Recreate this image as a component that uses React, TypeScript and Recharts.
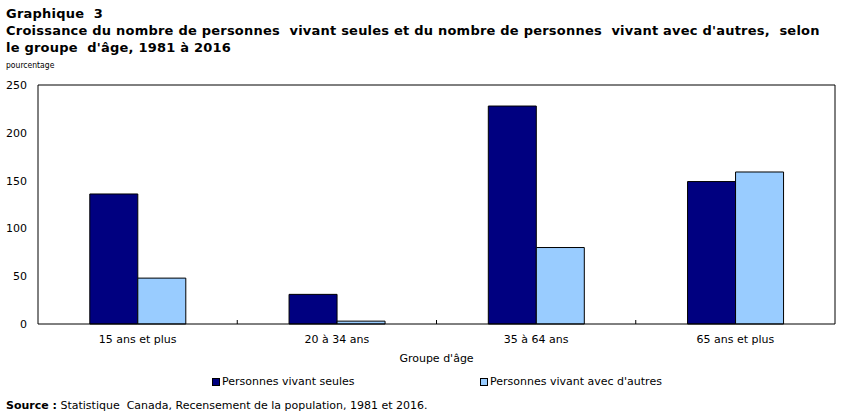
import { BarChart, Bar, XAxis, YAxis, CartesianGrid } from 'recharts';

const ageGroups = ['15 ans et plus', '20 à 34 ans', '35 à 64 ans', '65 ans et plus'];
const vivantSeules = [136, 31, 228, 149];
const vivantAvecAutres = [48, 3, 80, 159];
const yTicks = [0, 50, 100, 150, 200, 250];

const data = ageGroups.map((group, i) => ({
  group,
  seules: vivantSeules[i],
  autres: vivantAvecAutres[i],
}));

const DARK = '#000080';
const LIGHT = '#99ccff';
const FONT = '"DejaVu Sans", Verdana, sans-serif';
const SMALL_FONT = '"DejaVu Sans Condensed", "DejaVu Sans", sans-serif';

function CategoryTick(props: any) {
  const { x, y, payload, index } = props;
  const half = payload?.offset ?? 0;
  return (
    <g>
      {index > 0 && (
        <line x1={x - half} x2={x - half} y1={y - 4} y2={y} stroke="#000" />
      )}
      <text x={x} y={y + 19} textAnchor="middle" fontSize={11} fontFamily={FONT} fill="#000">
        {payload.value}
      </text>
    </g>
  );
}

function LegendItem({ color, label, left }: { color: string; label: string; left: number }) {
  return (
    <div style={{ position: 'absolute', left, top: 375, display: 'flex', alignItems: 'center' }}>
      <span
        style={{
          display: 'inline-block',
          width: 6,
          height: 6,
          background: color,
          border: '1px solid #000',
          marginRight: 2,
        }}
      />
      <span style={{ fontSize: 11, fontFamily: FONT }}>{label}</span>
    </div>
  );
}

export default function App() {
  return (
    <div style={{ position: 'absolute', left: 0, top: 0, width: 850, height: 416, background: '#fff' }}>
      <div
        style={{
          position: 'absolute',
          left: 6,
          top: 5,
          fontFamily: FONT,
          fontWeight: 'bold',
          fontSize: 13,
          lineHeight: '17px',
          letterSpacing: 0.22,
          whiteSpace: 'nowrap',
        }}
      >
        Graphique&nbsp; 3
        <br />
        Croissance du nombre de personnes&nbsp; vivant seules et du nombre de personnes&nbsp; vivant avec d'autres,&nbsp; selon
        <br />
        le groupe&nbsp; d'âge, 1981 à 2016
      </div>
      <div style={{ position: 'absolute', left: 6, top: 60, fontFamily: SMALL_FONT, fontSize: 8.5 }}>
        pourcentage
      </div>

      <BarChart
        width={850}
        height={416}
        data={data}
        margin={{ top: 85, right: 15, left: 0, bottom: 62 }}
        barCategoryGap="26%"
        barGap={0}
        style={{ position: 'absolute', left: 0, top: 0 }}
      >
        <CartesianGrid
          stroke="#000"
          horizontalCoordinatesGenerator={({ offset }: any) => [offset.top]}
          verticalCoordinatesGenerator={({ offset }: any) => [offset.left + offset.width]}
        />
        <XAxis
          dataKey="group"
          height={30}
          axisLine={{ stroke: '#000' }}
          tickLine={false}
          tickSize={0}
          tickMargin={0}
          tick={CategoryTick}
          interval={0}
          label={{
            value: "Groupe d'âge",
            position: 'bottom',
            offset: 0,
            fontSize: 11,
            fontFamily: FONT,
            fill: '#000',
          }}
        />
        <YAxis
          width={38}
          domain={[0, 250]}
          ticks={yTicks}
          interval={0}
          axisLine={{ stroke: '#000' }}
          tickLine={false}
          tickMargin={5}
          tick={{ fontSize: 11, fontFamily: FONT, fill: '#000' }}
        />
        <Bar dataKey="seules" fill={DARK} stroke="#000" strokeWidth={1} isAnimationActive={false} />
        <Bar dataKey="autres" fill={LIGHT} stroke="#000" strokeWidth={1} isAnimationActive={false} />
      </BarChart>

      <LegendItem color={DARK} label="Personnes vivant seules" left={212} />
      <LegendItem color={LIGHT} label="Personnes vivant avec d'autres" left={480} />

      <div style={{ position: 'absolute', left: 6, top: 399, fontFamily: FONT, fontSize: 11, whiteSpace: 'nowrap' }}>
        <b>Source&nbsp;:</b> Statistique&nbsp; Canada, Recensement de la population, 1981 et 2016.
      </div>
    </div>
  );
}
